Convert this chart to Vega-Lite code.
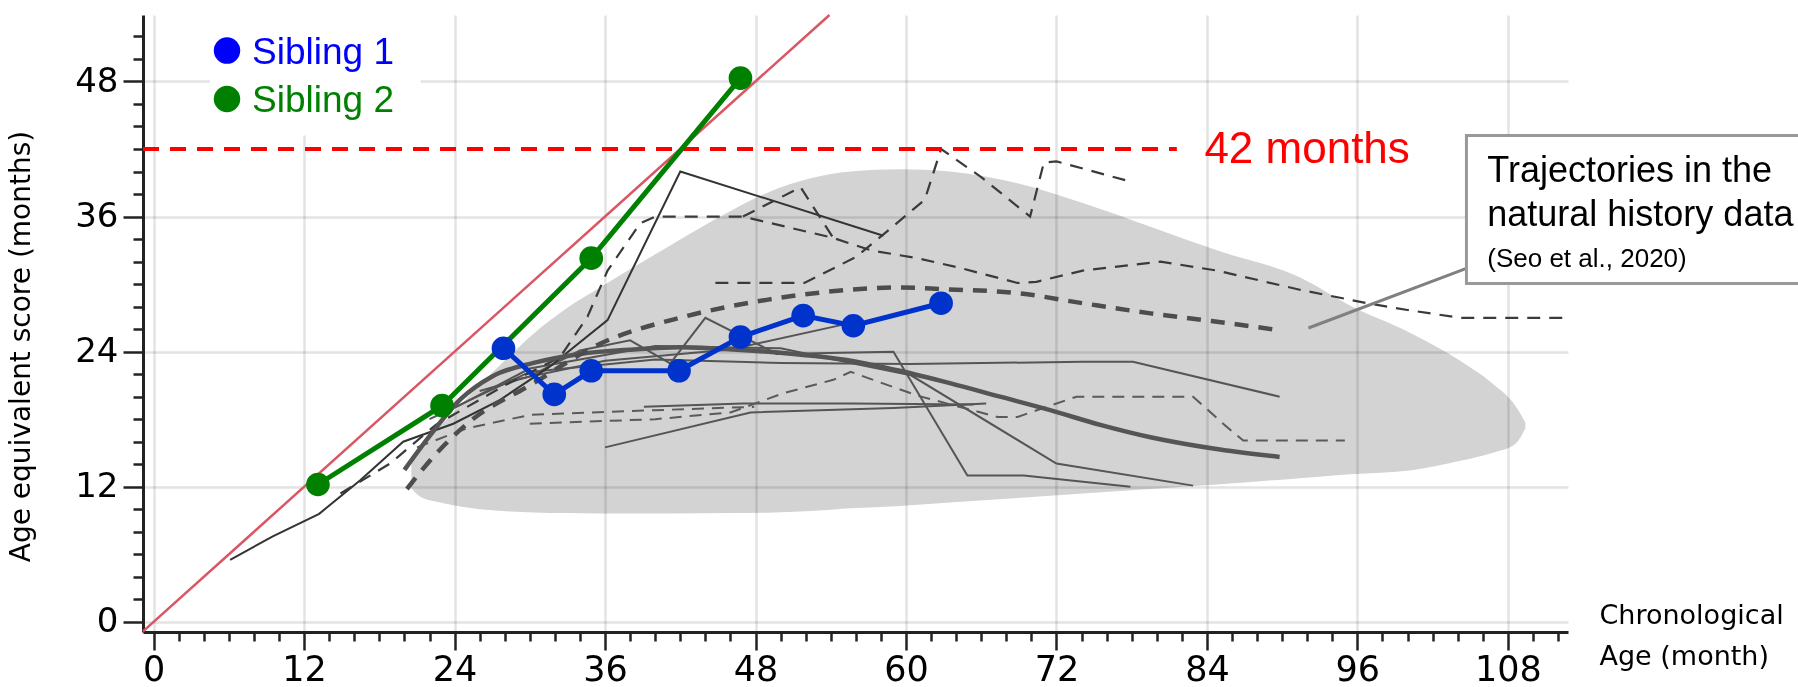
{
  "$schema": "https://vega.github.io/schema/vega-lite/v6.json",
  "width": 1425,
  "height": 617,
  "autosize": {"type": "none"},
  "padding": {"left": 143, "top": 15, "right": 230, "bottom": 55},
  "background": "white",
  "config": {"view": {"stroke": null}, "font": "Liberation Sans"},
  "datasets": {
    "boxes": [
      {"name": "legendbg", "x": 4.5, "x2": 21.3, "y": 43.2, "y2": 53.9},
      {"name": "note", "x": 104.7, "x2": 132, "y": 30.06, "y2": 43.2}
    ],
    "blob": [
      {"x": 20.55, "y": 14.4, "y2": 11.9},
      {"x": 21.3, "y": 15.7, "y2": 11.1},
      {"x": 22.5, "y": 17.0, "y2": 10.7},
      {"x": 23.9, "y": 18.6, "y2": 10.36},
      {"x": 26.05, "y": 21.1, "y2": 10.0},
      {"x": 28.45, "y": 23.7, "y2": 9.8},
      {"x": 30.3, "y": 25.6, "y2": 9.72},
      {"x": 33.0, "y": 27.9, "y2": 9.66},
      {"x": 35.6, "y": 29.7, "y2": 9.63},
      {"x": 41.0, "y": 33.3, "y2": 9.62},
      {"x": 46.2, "y": 36.6, "y2": 9.66},
      {"x": 48.9, "y": 38.1, "y2": 9.7},
      {"x": 52.4, "y": 39.4, "y2": 9.85},
      {"x": 55.6, "y": 40.0, "y2": 10.09},
      {"x": 59.5, "y": 40.2, "y2": 10.3},
      {"x": 63.5, "y": 40.0, "y2": 10.6},
      {"x": 68.9, "y": 38.95, "y2": 11.0},
      {"x": 74.1, "y": 37.2, "y2": 11.4},
      {"x": 79.5, "y": 35.1, "y2": 11.8},
      {"x": 84.8, "y": 33.0, "y2": 12.2},
      {"x": 91.4, "y": 30.6, "y2": 12.76},
      {"x": 95.4, "y": 28.1, "y2": 13.1},
      {"x": 100.35, "y": 25.6, "y2": 13.47},
      {"x": 104.2, "y": 23.2, "y2": 14.3},
      {"x": 106.75, "y": 21.2, "y2": 15.0},
      {"x": 108.6, "y": 19.2, "y2": 15.8},
      {"x": 109.4, "y": 17.7, "y2": 17.2}
    ],
    "traj": [
      {"id": "S1", "g": "dark", "x": 6.1, "y": 5.5},
      {"id": "S1", "g": "dark", "x": 9.5, "y": 7.6},
      {"id": "S1", "g": "dark", "x": 13.2, "y": 9.6},
      {"id": "S1", "g": "dark", "x": 16.5, "y": 12.6},
      {"id": "S1", "g": "dark", "x": 19.9, "y": 16.0},
      {"id": "S1", "g": "dark", "x": 23.9, "y": 17.6},
      {"id": "S1", "g": "dark", "x": 27.6, "y": 19.7},
      {"id": "S1", "g": "dark", "x": 31.5, "y": 22.6},
      {"id": "S1", "g": "dark", "x": 36.2, "y": 26.8},
      {"id": "S1", "g": "dark", "x": 42.0, "y": 40.0},
      {"id": "S1", "g": "dark", "x": 58.2, "y": 34.3},
      {"id": "S2", "g": "solid", "x": 26, "y": 20.5},
      {"id": "S2", "g": "solid", "x": 30, "y": 21.8},
      {"id": "S2", "g": "solid", "x": 34, "y": 24.1},
      {"id": "S2", "g": "solid", "x": 38, "y": 25.0},
      {"id": "S2", "g": "solid", "x": 41.2, "y": 22.95},
      {"id": "S2", "g": "solid", "x": 44, "y": 27.0},
      {"id": "S2", "g": "solid", "x": 49.7, "y": 23.8},
      {"id": "S2", "g": "solid", "x": 59, "y": 24.0},
      {"id": "S2", "g": "solid", "x": 64.9, "y": 13.0},
      {"id": "S2", "g": "solid", "x": 69.4, "y": 13.0},
      {"id": "S2", "g": "solid", "x": 77.9, "y": 12.0},
      {"id": "S3", "g": "solid", "x": 39.1, "y": 19.1},
      {"id": "S3", "g": "solid", "x": 47, "y": 19.4},
      {"id": "S3", "g": "solid", "x": 55.6, "y": 19.4},
      {"id": "S3", "g": "solid", "x": 65.4, "y": 19.3},
      {"id": "S4", "g": "solid", "x": 24, "y": 19},
      {"id": "S4", "g": "solid", "x": 30, "y": 22.5},
      {"id": "S4", "g": "solid", "x": 40, "y": 24.5},
      {"id": "S4", "g": "solid", "x": 50, "y": 24.3},
      {"id": "S4", "g": "solid", "x": 55.6, "y": 23.0},
      {"id": "S4", "g": "solid", "x": 60.4, "y": 21.9},
      {"id": "S4", "g": "solid", "x": 72, "y": 14.06},
      {"id": "S4", "g": "solid", "x": 82.9, "y": 12.1},
      {"id": "S5", "g": "solid", "x": 22, "y": 18},
      {"id": "S5", "g": "solid", "x": 30, "y": 22.2},
      {"id": "S5", "g": "solid", "x": 40, "y": 23.3},
      {"id": "S5", "g": "solid", "x": 50, "y": 23.0},
      {"id": "S5", "g": "solid", "x": 60.3, "y": 22.9},
      {"id": "S5", "g": "solid", "x": 74.1, "y": 23.1},
      {"id": "S5", "g": "solid", "x": 78.1, "y": 23.1},
      {"id": "S5", "g": "solid", "x": 89.8, "y": 20.0},
      {"id": "S6", "g": "solid", "x": 36, "y": 15.5},
      {"id": "S6", "g": "solid", "x": 47.6, "y": 18.6},
      {"id": "S6", "g": "solid", "x": 59, "y": 19.0},
      {"id": "S6", "g": "solid", "x": 66.4, "y": 19.4},
      {"id": "S9", "g": "solid", "x": 28, "y": 21.3},
      {"id": "S9", "g": "solid", "x": 36, "y": 23.2},
      {"id": "S9", "g": "solid", "x": 46, "y": 24.2},
      {"id": "S9", "g": "solid", "x": 55.8, "y": 26.6},
      {"id": "M1", "g": "mean", "x": 20, "y": 13.5},
      {"id": "M1", "g": "mean", "x": 22, "y": 16.5},
      {"id": "M1", "g": "mean", "x": 24.5, "y": 19.8},
      {"id": "M1", "g": "mean", "x": 27, "y": 21.8},
      {"id": "M1", "g": "mean", "x": 30.3, "y": 23.0},
      {"id": "M1", "g": "mean", "x": 34, "y": 23.8},
      {"id": "M1", "g": "mean", "x": 38.3, "y": 24.2},
      {"id": "M1", "g": "mean", "x": 42, "y": 24.4},
      {"id": "M1", "g": "mean", "x": 46.2, "y": 24.2},
      {"id": "M1", "g": "mean", "x": 50, "y": 23.9},
      {"id": "M1", "g": "mean", "x": 55.6, "y": 23.2},
      {"id": "M1", "g": "mean", "x": 59.5, "y": 22.3},
      {"id": "M1", "g": "mean", "x": 63.5, "y": 21.2},
      {"id": "M1", "g": "mean", "x": 67.5, "y": 20.0},
      {"id": "M1", "g": "mean", "x": 71.5, "y": 18.8},
      {"id": "M1", "g": "mean", "x": 75.5, "y": 17.5},
      {"id": "M1", "g": "mean", "x": 79.5, "y": 16.4},
      {"id": "M1", "g": "mean", "x": 84.5, "y": 15.4},
      {"id": "M1", "g": "mean", "x": 89.8, "y": 14.65},
      {"id": "M2", "g": "meandashed", "x": 20.2, "y": 11.8},
      {"id": "M2", "g": "meandashed", "x": 22.1, "y": 14.4},
      {"id": "M2", "g": "meandashed", "x": 25, "y": 17.6},
      {"id": "M2", "g": "meandashed", "x": 30.3, "y": 21.2},
      {"id": "M2", "g": "meandashed", "x": 35.6, "y": 24.7},
      {"id": "M2", "g": "meandashed", "x": 42.3, "y": 27.1},
      {"id": "M2", "g": "meandashed", "x": 48.9, "y": 28.6},
      {"id": "M2", "g": "meandashed", "x": 55.6, "y": 29.5},
      {"id": "M2", "g": "meandashed", "x": 59.5, "y": 29.7},
      {"id": "M2", "g": "meandashed", "x": 63, "y": 29.55},
      {"id": "M2", "g": "meandashed", "x": 68.9, "y": 29.2},
      {"id": "M2", "g": "meandashed", "x": 74.1, "y": 28.3},
      {"id": "M2", "g": "meandashed", "x": 79.5, "y": 27.4},
      {"id": "M2", "g": "meandashed", "x": 84.5, "y": 26.7},
      {"id": "M2", "g": "meandashed", "x": 89.8, "y": 25.9},
      {"id": "DA", "g": "darkdashed", "x": 14.9, "y": 11.4},
      {"id": "DA", "g": "darkdashed", "x": 18.9, "y": 14.1},
      {"id": "DA", "g": "darkdashed", "x": 22.5, "y": 17.5},
      {"id": "DA", "g": "darkdashed", "x": 28, "y": 21.0},
      {"id": "DA", "g": "darkdashed", "x": 32.4, "y": 23.5},
      {"id": "DA", "g": "darkdashed", "x": 34.6, "y": 27.1},
      {"id": "DA", "g": "darkdashed", "x": 36.2, "y": 31.2},
      {"id": "DA", "g": "darkdashed", "x": 38.8, "y": 35.4},
      {"id": "DA", "g": "darkdashed", "x": 40, "y": 36},
      {"id": "DA", "g": "darkdashed", "x": 47, "y": 36},
      {"id": "DA", "g": "darkdashed", "x": 54.2, "y": 34.1},
      {"id": "DA", "g": "darkdashed", "x": 57.2, "y": 33.0},
      {"id": "DA", "g": "darkdashed", "x": 60.9, "y": 32.3},
      {"id": "DA", "g": "darkdashed", "x": 64.1, "y": 31.5},
      {"id": "DA", "g": "darkdashed", "x": 68.9, "y": 30.1},
      {"id": "DA", "g": "darkdashed", "x": 70.4, "y": 30.2},
      {"id": "DA", "g": "darkdashed", "x": 74.1, "y": 31.2},
      {"id": "DA", "g": "darkdashed", "x": 80.3, "y": 32.0},
      {"id": "DA", "g": "darkdashed", "x": 84.8, "y": 31.2},
      {"id": "DA", "g": "darkdashed", "x": 91.4, "y": 29.5},
      {"id": "DA", "g": "darkdashed", "x": 96.8, "y": 28.3},
      {"id": "DA", "g": "darkdashed", "x": 100, "y": 27.7},
      {"id": "DA", "g": "darkdashed", "x": 104.2, "y": 27.0},
      {"id": "DA", "g": "darkdashed", "x": 112.7, "y": 27.0},
      {"id": "DB", "g": "darkdashed", "x": 44.8, "y": 30.1},
      {"id": "DB", "g": "darkdashed", "x": 51.9, "y": 30.1},
      {"id": "DB", "g": "darkdashed", "x": 56, "y": 32.4},
      {"id": "DB", "g": "darkdashed", "x": 58.3, "y": 34.5},
      {"id": "DB", "g": "darkdashed", "x": 61.5, "y": 37.5},
      {"id": "DB", "g": "darkdashed", "x": 62.8, "y": 42},
      {"id": "DB", "g": "darkdashed", "x": 66, "y": 39.5},
      {"id": "DB", "g": "darkdashed", "x": 69.9, "y": 36},
      {"id": "DB", "g": "darkdashed", "x": 71, "y": 40.8},
      {"id": "DB", "g": "darkdashed", "x": 72, "y": 40.9},
      {"id": "DB", "g": "darkdashed", "x": 77.6, "y": 39.2},
      {"id": "DD", "g": "darkdashed", "x": 47, "y": 36},
      {"id": "DD", "g": "darkdashed", "x": 51.6, "y": 38.6},
      {"id": "DD", "g": "darkdashed", "x": 54.2, "y": 34.1},
      {"id": "DE", "g": "dashed", "x": 30, "y": 17.6},
      {"id": "DE", "g": "dashed", "x": 40, "y": 18.0},
      {"id": "DE", "g": "dashed", "x": 46, "y": 18.6},
      {"id": "DE", "g": "dashed", "x": 50.2, "y": 20.3},
      {"id": "DE", "g": "dashed", "x": 54.2, "y": 21.5},
      {"id": "DE", "g": "dashed", "x": 55.6, "y": 22.2},
      {"id": "DE", "g": "dashed", "x": 60.9, "y": 20.1},
      {"id": "DE", "g": "dashed", "x": 67.3, "y": 18.2},
      {"id": "DE", "g": "dashed", "x": 68.9, "y": 18.2},
      {"id": "DE", "g": "dashed", "x": 73.6, "y": 20.0},
      {"id": "DE", "g": "dashed", "x": 82.9, "y": 20.0},
      {"id": "DE", "g": "dashed", "x": 85.6, "y": 17.3},
      {"id": "DE", "g": "dashed", "x": 86.9, "y": 16.1},
      {"id": "DE", "g": "dashed", "x": 95, "y": 16.1},
      {"id": "DF", "g": "dashed", "x": 21, "y": 15.5},
      {"id": "DF", "g": "dashed", "x": 25, "y": 17.2},
      {"id": "DF", "g": "dashed", "x": 30.1, "y": 18.4},
      {"id": "DF", "g": "dashed", "x": 40, "y": 18.8},
      {"id": "DF", "g": "dashed", "x": 47.9, "y": 19.1}
    ],
    "ref": [
      {"id": "diag", "x": -0.85, "y": -0.85},
      {"id": "diag", "x": 53.9, "y": 53.9},
      {"id": "h42", "x": -0.85, "y": 42},
      {"id": "h42", "x": 81.6, "y": 42},
      {"id": "leader", "x": 92.1, "y": 26.1},
      {"id": "leader", "x": 104.7, "y": 31.4}
    ],
    "sib": [
      {"s": "Sibling 2", "x": 13.1, "y": 12.2},
      {"s": "Sibling 2", "x": 23.0, "y": 19.2},
      {"s": "Sibling 2", "x": 34.9, "y": 32.3},
      {"s": "Sibling 2", "x": 46.8, "y": 48.3},
      {"s": "Sibling 1", "x": 27.9, "y": 24.3},
      {"s": "Sibling 1", "x": 31.95, "y": 20.2},
      {"s": "Sibling 1", "x": 34.9, "y": 22.3},
      {"s": "Sibling 1", "x": 41.9, "y": 22.3},
      {"s": "Sibling 1", "x": 46.8, "y": 25.3},
      {"s": "Sibling 1", "x": 51.8, "y": 27.2},
      {"s": "Sibling 1", "x": 55.8, "y": 26.3},
      {"s": "Sibling 1", "x": 62.8, "y": 28.3}
    ],
    "legend": [
      {"label": "Sibling 1", "x": 5.85, "y": 50.74, "tx": 7.85, "ty": 49.56},
      {"label": "Sibling 2", "x": 5.85, "y": 46.44, "tx": 7.85, "ty": 45.26}
    ],
    "notes": [
      {"k": "big", "t": "42 months", "x": 83.8, "y": 40.76},
      {"k": "box", "t": "Trajectories in the", "x": 106.36, "y": 39.09},
      {"k": "box", "t": "natural history data", "x": 106.36, "y": 35.16},
      {"k": "cite", "t": "(Seo et al., 2020)", "x": 106.36, "y": 31.54}
    ]
  },
  "encoding": {
    "x": {
      "field": "x", "type": "quantitative",
      "scale": {"domain": [-0.85, 112.8], "nice": false, "zero": false},
      "axis": {
        "title": ["Chronological", "Age (month)"],
        "values": [0,2,4,6,8,10,12,14,16,18,20,22,24,26,28,30,32,34,36,38,40,42,44,46,48,50,52,54,56,58,60,62,64,66,68,70,72,74,76,78,80,82,84,86,88,90,92,94,96,98,100,102,104,106,108,110,112],
        "labelExpr": "datum.value % 12 === 0 ? datum.label : ''",
        "tickSize": {"condition": {"test": "datum.value % 12 === 0", "value": 18}, "value": 9},
        "gridOpacity": {"condition": {"test": "datum.value % 12 === 0", "value": 0.11}, "value": 0},
        "grid": true, "gridColor": "#000000", "gridWidth": 2.5,
        "domainColor": "#222222", "domainWidth": 3, "tickColor": "#222222", "tickWidth": 2.5,
        "labelFont": "DejaVu Sans", "labelFontSize": 35, "labelColor": "#000000", "labelPadding": 2,
        "labelFlush": false, "labelOverlap": false,
        "titleFont": "DejaVu Sans", "titleFontSize": 27, "titleFontWeight": "normal", "titleColor": "#000000",
        "titleX": 1456, "titleY": -30, "titleAlign": "left", "titleAnchor": null, "titleBaseline": "top", "titleLineHeight": 41
      }
    },
    "y": {
      "field": "y", "type": "quantitative",
      "scale": {"domain": [-0.9, 53.9], "nice": false, "zero": false},
      "axis": {
        "title": "Age equivalent score (months)",
        "values": [0,2,4,6,8,10,12,14,16,18,20,22,24,26,28,30,32,34,36,38,40,42,44,46,48,50,52],
        "labelExpr": "datum.value % 12 === 0 ? datum.label : ''",
        "tickSize": {"condition": {"test": "datum.value % 12 === 0", "value": 20}, "value": 10},
        "gridOpacity": {"condition": {"test": "datum.value % 12 === 0", "value": 0.11}, "value": 0},
        "grid": true, "gridColor": "#000000", "gridWidth": 2.5,
        "domainColor": "#222222", "domainWidth": 3, "tickColor": "#222222", "tickWidth": 2.5,
        "labelFont": "DejaVu Sans", "labelFontSize": 34, "labelColor": "#000000", "labelPadding": 5,
        "labelFlush": false, "labelOverlap": false,
        "titleFont": "DejaVu Sans", "titleFontSize": 28, "titleFontWeight": "normal", "titleColor": "#000000",
        "titleX": -122, "titleY": 331, "titleAngle": -90, "titleAlign": "center", "titleAnchor": null, "titleBaseline": "middle"
      }
    }
  },
  "layer": [
    {"data": {"name": "boxes"}, "transform": [{"filter": "datum.name === 'legendbg'"}],
     "mark": {"type": "rect", "fill": "white"},
     "encoding": {"x2": {"field": "x2"}, "y2": {"field": "y2"}}},
    {"data": {"name": "blob"},
     "mark": {"type": "area", "color": "#d3d3d3", "opacity": 1, "interpolate": "monotone", "blend": "multiply"},
     "encoding": {"y2": {"field": "y2"}}},
    {"data": {"name": "traj"}, "transform": [{"filter": "datum.g === 'solid'"}],
     "mark": {"type": "line", "color": "#555555", "strokeWidth": 2},
     "encoding": {"detail": {"field": "id"}}},
    {"data": {"name": "traj"}, "transform": [{"filter": "datum.g === 'dark'"}],
     "mark": {"type": "line", "color": "#333333", "strokeWidth": 2},
     "encoding": {"detail": {"field": "id"}}},
    {"data": {"name": "traj"}, "transform": [{"filter": "datum.g === 'dashed'"}],
     "mark": {"type": "line", "color": "#5a5a5a", "strokeWidth": 2, "strokeDash": [12, 8]},
     "encoding": {"detail": {"field": "id"}}},
    {"data": {"name": "traj"}, "transform": [{"filter": "datum.g === 'darkdashed'"}],
     "mark": {"type": "line", "color": "#3a3a3a", "strokeWidth": 2.2, "strokeDash": [13, 9]},
     "encoding": {"detail": {"field": "id"}}},
    {"data": {"name": "traj"}, "transform": [{"filter": "datum.g === 'mean'"}],
     "mark": {"type": "line", "color": "#555555", "strokeWidth": 4.5, "interpolate": "monotone"},
     "encoding": {"detail": {"field": "id"}}},
    {"data": {"name": "traj"}, "transform": [{"filter": "datum.g === 'meandashed'"}],
     "mark": {"type": "line", "color": "#4d4d4d", "strokeWidth": 4.5, "strokeDash": [14, 10], "interpolate": "monotone"},
     "encoding": {"detail": {"field": "id"}}},
    {"data": {"name": "ref"}, "transform": [{"filter": "datum.id === 'diag'"}],
     "mark": {"type": "line", "color": "#d95763", "strokeWidth": 2.5},
     "encoding": {}},
    {"data": {"name": "ref"}, "transform": [{"filter": "datum.id === 'h42'"}],
     "mark": {"type": "line", "color": "#ff0000", "strokeWidth": 4, "strokeDash": [16, 11]},
     "encoding": {}},
    {"data": {"name": "ref"}, "transform": [{"filter": "datum.id === 'leader'"}],
     "mark": {"type": "line", "color": "#808080", "strokeWidth": 3},
     "encoding": {}},
    {"data": {"name": "boxes"}, "transform": [{"filter": "datum.name === 'note'"}],
     "mark": {"type": "rect", "fill": "white", "stroke": "#999999", "strokeWidth": 3},
     "encoding": {"x2": {"field": "x2"}, "y2": {"field": "y2"}}},
    {"data": {"name": "notes"}, "transform": [{"filter": "datum.k === 'box'"}],
     "mark": {"type": "text", "font": "Liberation Sans", "fontSize": 36, "color": "#000000", "align": "left", "baseline": "alphabetic"},
     "encoding": {"text": {"field": "t"}}},
    {"data": {"name": "notes"}, "transform": [{"filter": "datum.k === 'cite'"}],
     "mark": {"type": "text", "font": "Liberation Sans", "fontSize": 26, "color": "#000000", "align": "left", "baseline": "alphabetic"},
     "encoding": {"text": {"field": "t"}}},
    {"data": {"name": "notes"}, "transform": [{"filter": "datum.k === 'big'"}],
     "mark": {"type": "text", "font": "Liberation Sans", "fontSize": 44, "color": "#ff0000", "align": "left", "baseline": "alphabetic"},
     "encoding": {"text": {"field": "t"}}},
    {"data": {"name": "sib"}, "transform": [{"filter": "datum.s === 'Sibling 2'"}],
     "mark": {"type": "line", "color": "#008000", "strokeWidth": 5},
     "encoding": {}},
    {"data": {"name": "sib"}, "transform": [{"filter": "datum.s === 'Sibling 2'"}],
     "mark": {"type": "circle", "color": "#008000", "size": 560, "opacity": 1},
     "encoding": {}},
    {"data": {"name": "sib"}, "transform": [{"filter": "datum.s === 'Sibling 1'"}],
     "mark": {"type": "line", "color": "#0033cc", "strokeWidth": 5},
     "encoding": {}},
    {"data": {"name": "sib"}, "transform": [{"filter": "datum.s === 'Sibling 1'"}],
     "mark": {"type": "circle", "color": "#0033cc", "size": 560, "opacity": 1},
     "encoding": {}},
    {"data": {"name": "legend"}, "transform": [{"filter": "datum.label === 'Sibling 1'"}],
     "mark": {"type": "circle", "color": "#0000ff", "size": 700, "opacity": 1},
     "encoding": {}},
    {"data": {"name": "legend"}, "transform": [{"filter": "datum.label === 'Sibling 2'"}],
     "mark": {"type": "circle", "color": "#008000", "size": 700, "opacity": 1},
     "encoding": {}},
    {"data": {"name": "legend"}, "transform": [{"filter": "datum.label === 'Sibling 1'"}],
     "mark": {"type": "text", "font": "Liberation Sans", "fontSize": 37, "color": "#0000ff", "align": "left", "baseline": "alphabetic"},
     "encoding": {"x": {"field": "tx", "type": "quantitative"}, "y": {"field": "ty", "type": "quantitative"}, "text": {"field": "label"}}},
    {"data": {"name": "legend"}, "transform": [{"filter": "datum.label === 'Sibling 2'"}],
     "mark": {"type": "text", "font": "Liberation Sans", "fontSize": 37, "color": "#008000", "align": "left", "baseline": "alphabetic"},
     "encoding": {"x": {"field": "tx", "type": "quantitative"}, "y": {"field": "ty", "type": "quantitative"}, "text": {"field": "label"}}}
  ]
}
